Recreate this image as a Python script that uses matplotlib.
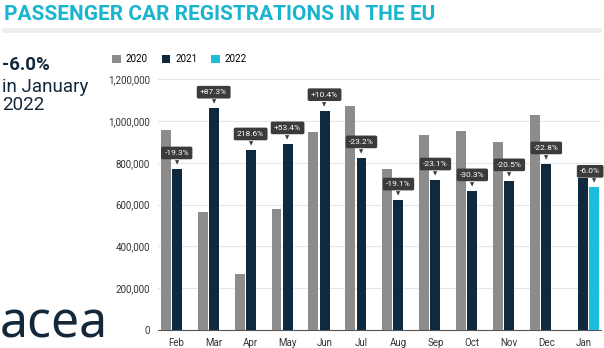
import matplotlib.pyplot as plt
from matplotlib.patches import FancyBboxPatch
import numpy as np

months = ["Feb", "Mar", "Apr", "May", "Jun", "Jul", "Aug", "Sep", "Oct", "Nov", "Dec", "Jan"]
reg_2020 = [957000, 566000, 269000, 581000, 950000, 1074000, 770000, 933000, 954000, 898000, 1031000, None]
reg_2021 = [771000, 1062000, 862000, 891000, 1050000, 824000, 622000, 718000, 666000, 714000, 795000, 726000]
reg_2022 = [None] * 11 + [683000]
changes = ["-19.3%", "+87.3%", "218.6%", "+53.4%", "+10.4%", "-23.2%", "-19.1%",
           "-23.1%", "-30.3%", "-20.5%", "-22.8%", "-6.0%"]

c20 = "#8c8c8c"
c21 = "#0f2a3f"
c22 = "#1bbfd9"
teal = "#1ab4cf"
navy = "#13283a"

plt.rcParams["font.family"] = ["Roboto", "DejaVu Sans"]

fig = plt.figure(figsize=(6.04, 3.48), dpi=100)
ax = fig.add_axes([0.262, 0.052, 0.733, 0.72])

x = np.arange(len(months))
w = 0.27
off = 0.30

def clean(vals):
    return [np.nan if v is None else v for v in vals]

ax.bar(x - off, clean(reg_2020), w, color=c20, label="2020", zorder=3)
ax.bar(x, clean(reg_2021), w, color=c21, label="2021", zorder=3)
ax.bar(x + off, clean(reg_2022), w, color=c22, label="2022", zorder=3)

# percentage boxes over the latest bar
for i, lab in enumerate(changes):
    if reg_2022[i] is not None:
        xi, top, dx = x[i] + off, reg_2022[i], -3
    else:
        xi, top, dx = x[i], reg_2021[i], 0
    ax.annotate(lab, xy=(xi, top), xytext=(dx, 11.5), textcoords="offset points",
                ha="center", va="center", fontsize=6, color="white", zorder=5,
                bbox=dict(boxstyle="round,pad=0.4,rounding_size=0.2", fc="#3b3b3b", ec="none"))
    ax.annotate("\u25BC", xy=(xi, top), xytext=(0, 4.5), textcoords="offset points",
                ha="center", va="center", fontsize=4, color="#3b3b3b", zorder=5,
                family="DejaVu Sans")

ax.set_ylim(0, 1200000)
ax.set_xlim(-0.5, 11.48)
ax.set_yticks(np.arange(0, 1200001, 200000))
ax.set_yticklabels([f"{v:,}" for v in range(0, 1200001, 200000)])
ax.set_xticks(x)
ax.set_xticklabels(months)
ax.tick_params(axis="y", length=0, labelsize=7, colors="#333333", pad=6)
ax.tick_params(axis="x", length=0, labelsize=7, colors="#333333", pad=6)
ax.grid(axis="y", color="#e6e6e6", linewidth=0.8, zorder=0)
for s in ["top", "right", "left"]:
    ax.spines[s].set_visible(False)
ax.spines["bottom"].set_color("#555555")
ax.spines["bottom"].set_linewidth(0.8)

ax.legend(loc="center left", bbox_to_anchor=(0.186, 1 - 59 / 348), bbox_transform=fig.transFigure,
          ncol=3, frameon=False, fontsize=7, handlelength=0.9, handleheight=0.9,
          handletextpad=0.5, columnspacing=1.4, borderaxespad=0, borderpad=0)

# title and header bar
fig.text(0.006, 1 - 14 / 348, "PASSENGER CAR REGISTRATIONS IN THE EU", color=teal,
         fontsize=15, fontweight="bold", va="center", ha="left")
fig.patches.append(FancyBboxPatch((0.003, 1 - 33 / 348), 0.994, 5 / 348,
                                  boxstyle="round,pad=0,rounding_size=0.004",
                                  transform=fig.transFigure, fc="#eeeeee", ec="none"))

# left side text
fig.text(0.004, 1 - 65 / 348, "-6.0%", color=navy, fontsize=13.5, fontweight="bold", va="center")
fig.text(0.004, 1 - 87 / 348, "in January", color=navy, fontsize=13.5, va="center")
fig.text(0.004, 1 - 105 / 348, "2022", color=navy, fontsize=13.5, va="center")

# logo
fig.text(0.0, 1 - 324 / 348, "acea", color=navy, fontsize=36, va="center", ha="left",
         family=["Noto Sans", "DejaVu Sans"])

fig.savefig("out.png", dpi=100)
